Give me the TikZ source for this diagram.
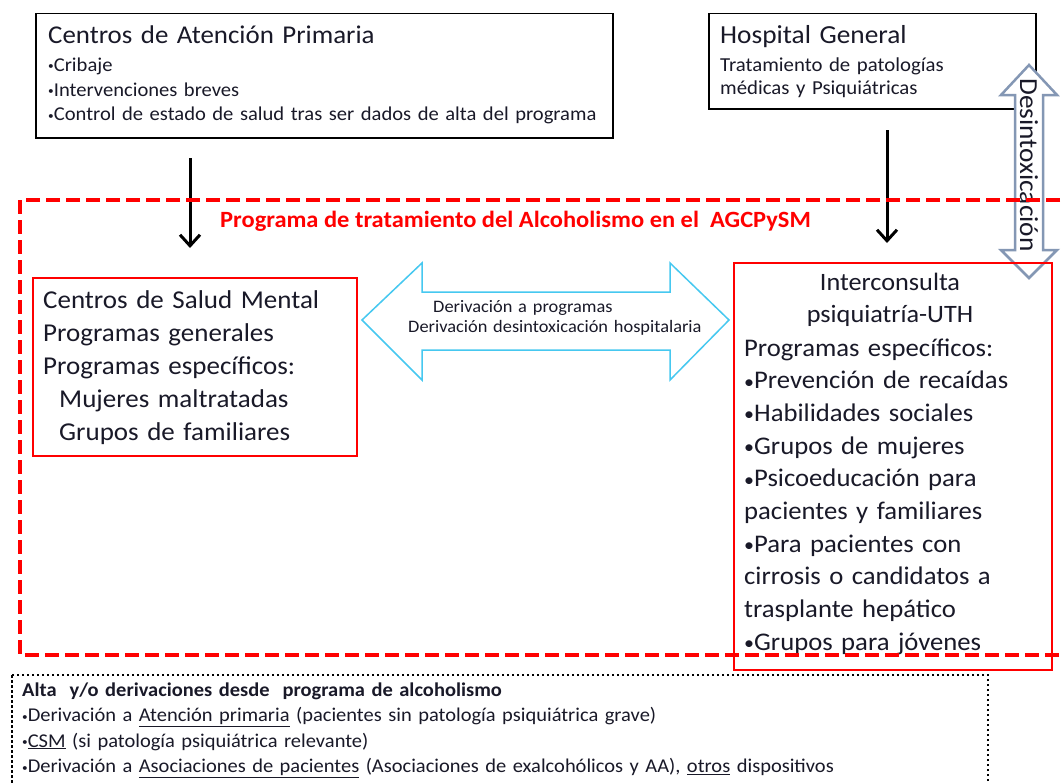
\documentclass[tikz,border=0pt]{standalone}
\usepackage{fontspec}
\usepackage{graphicx}
\setmainfont{Carlito}[FakeStretch=1.05]
\usetikzlibrary{arrows.meta}
\definecolor{redd}{RGB}{255,0,0}
\definecolor{cyanarrow}{RGB}{70,200,240}
\definecolor{grayarrow}{RGB}{132,151,180}
\definecolor{txt}{RGB}{25,25,40}
\tikzset{
  blackbox/.style={draw=black, line width=1.5pt, inner sep=0pt, anchor=north west},
  redbox/.style={draw=redd, line width=1.5pt, inner sep=0pt, anchor=north west},
  blackarrow/.style={line width=3pt, -{Straight Barb[length=11pt,width=20pt,line width=3pt]}},
  reddash/.style={draw=redd, line width=3.5pt, dash pattern=on 14pt off 6pt},
  dotbox/.style={draw=black, line width=2.5pt, dash pattern=on 2.5pt off 2.5pt},
  txtline/.style={inner sep=0pt, anchor=base west, text=txt, align=left, text width=#1},
  txtline/.default=600pt,
}
\newcommand{\fs}[2]{\fontsize{#1}{#2}\selectfont}
\newcommand{\sbul}{\raisebox{0.07em}{\scalebox{0.55}{•}}}
\newcommand{\mbul}{\raisebox{0.02em}{\scalebox{0.75}{•}}}
\begin{document}
\begin{tikzpicture}[x=1pt,y=-1pt]
\useasboundingbox (0,0) rectangle (1063,784);
\clip (0,0) rectangle (1063,784);
\fill[white] (0,0) rectangle (1063,784);

% Top boxes
\node[blackbox, minimum width=577pt, minimum height=124pt] (prim) at (35,13) {};
\node[txtline, font=\fs{25.6}{30}] (primtitle) at (48,44) {Centros de Atención Primaria};
\node[txtline, font=\fs{19.6}{25}] (primlist) at (48,71) {\sbul Cribaje\\\sbul Intervenciones breves\\\sbul Control de estado de salud tras ser dados de alta del programa};

\node[blackbox, minimum width=327pt, minimum height=95pt] (hosp) at (708,13) {};
\node[txtline=300pt, font=\fs{26}{30}] (hosptitle) at (720,44) {Hospital General};
\node[txtline=300pt, font=\fs{19.8}{24}] (hosplist) at (720,71) {Tratamiento de patologías\\médicas y Psiquiátricas};

% Vertical desintoxicacion arrow
\draw[grayarrow, line width=2.5pt, fill=white, line join=miter]
  (1029,65) -- (1057,95) -- (1043,95) -- (1043,250) -- (1057,250) -- (1029,278)
  -- (1001,250) -- (1015,250) -- (1015,95) -- (1001,95) -- cycle;
\node[rotate=-90, inner sep=0pt, text=txt, font=\fs{26}{30}] (desin) at (1029,165) {Desintoxicación};

% Black arrows
\coordinate (a1s) at (190,158);
\coordinate (a1e) at (190,248);
\draw[blackarrow] (a1s) -- (a1e);
\coordinate (a2s) at (887,130);
\coordinate (a2e) at (887,243);
\draw[blackarrow] (a2s) -- (a2e);

% CSM box
\node[redbox, minimum width=324pt, minimum height=178pt] (csm) at (32,277) {};
\node[txtline=320pt, font=\fs{25.7}{33}] (csmtxt) at (43,308) {Centros de Salud Mental\\Programas generales\\Programas específicos:\\\hspace*{16pt}Mujeres maltratadas\\\hspace*{16pt}Grupos de familiares};

% Blue double arrow
\draw[cyanarrow, line width=1.5pt, fill=white, line join=miter]
  (362,320) -- (422,263) -- (422,292) -- (670,292) -- (670,263) -- (729,320)
  -- (670,380) -- (670,350) -- (422,350) -- (422,380) -- cycle;
\node[txtline=300pt, font=\fs{17.5}{20}] (deriv1) at (433,312) {Derivación a programas};
\node[txtline=300pt, font=\fs{17.5}{20}] (deriv2) at (408,332) {Derivación desintoxicación hospitalaria};

% Right box
\node[redbox, minimum width=318pt, minimum height=407pt] (uth) at (733,262) {};
\node[inner sep=0pt, anchor=base, text=txt, align=center, text width=310pt, font=\fs{25}{32.7}] (uthtitle) at (890,290) {Interconsulta\\psiquiatría-UTH};
\node[txtline=310pt, font=\fs{25.4}{32.7}] (uthlist) at (744,356) {Programas específicos:\\\mbul Prevención de recaídas\\\mbul Habilidades sociales\\\mbul Grupos de mujeres\\\mbul Psicoeducación para\\pacientes y familiares\\\mbul Para pacientes con\\cirrosis o candidatos a\\trasplante hepático\\\mbul Grupos para jóvenes};

% Bottom dotted box
\draw[dotbox] (12,675) rectangle (988,810);
\node[txtline=960pt, font=\fs{19.5}{25.5}] (alta) at (22,696) {\textbf{Alta\ \ y/o derivaciones desde\ \ programa de alcoholismo}\\
\sbul Derivación a \underline{Atención primaria} (pacientes sin patología psiquiátrica grave)\\
\sbul\underline{CSM} (si patología psiquiátrica relevante)\\
\sbul Derivación a \underline{Asociaciones de pacientes} (Asociaciones de exalcohólicos y AA), \underline{otros} dispositivos};

% Red dashed program frame
\draw[reddash] (20,200) rectangle (1085,655);
\node[inner sep=0pt, anchor=base west, text=redd, font=\bfseries\fs{23.3}{26}] (progtitle) at (220,227) {Programa de tratamiento del Alcoholismo en el\ \ AGCPySM};
\end{tikzpicture}
\end{document}
